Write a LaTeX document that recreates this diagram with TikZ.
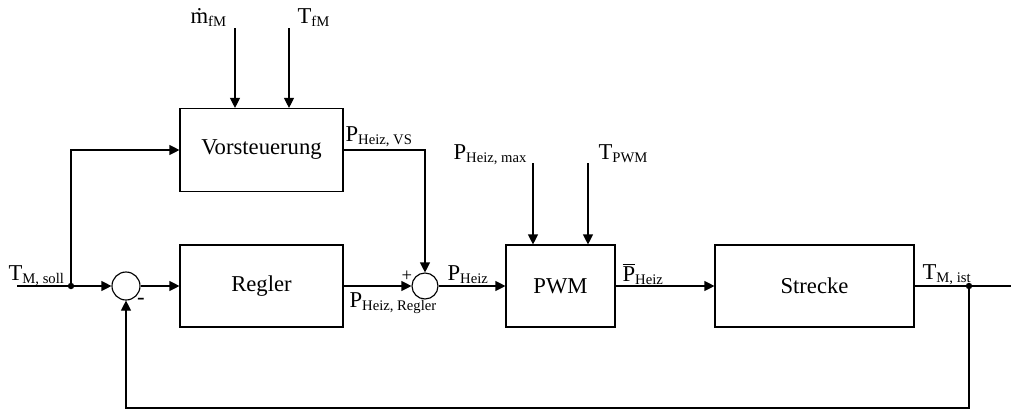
\documentclass[tikz,border=0pt]{standalone}
\usepackage{fontspec}
\setmainfont{Liberation Serif}
\usetikzlibrary{arrows.meta}
\newcommand\sbs[1]{\raisebox{-2.5pt}{\fontsize{11}{12}\selectfont #1}}
\begin{document}
\begin{tikzpicture}[x=0.75pt,y=-0.75pt, line width=0.85pt,
  font=\fontsize{17}{19}\selectfont,
  >={Triangle[length=7.5pt,width=7.5pt]},
  blk/.style={draw, minimum width=#1, minimum height=61.5pt, inner sep=0pt},
  sumc/.style={draw, circle, minimum size=#1, inner sep=0pt},
  dot/.style={circle, fill, inner sep=0pt, minimum size=4.8pt},
  lbl/.style={anchor=base west, inner sep=0pt}]
\useasboundingbox (0,0) rectangle (1011,412);
% blocks
\node[blk=122.25pt, minimum height=62.25pt] (vs) at (261.5,150) {Vorsteuerung};
\node[blk=122.25pt] (reg) at (261.5,286) {Regler};
\node[blk=81.75pt] (pwm) at (560.5,286) {PWM};
\node[blk=149.25pt] (str) at (814.5,286) {Strecke};
\node[sumc=21pt] (s1) at (126,286) {};
\node[sumc=19.5pt] (s2) at (425,286) {};
\node[dot] (d1) at (71,286) {};
\node[dot] (d2) at (969,286) {};
\coordinate (in) at (17,286);
\coordinate (out) at (1011,286);
\coordinate (fb1) at (969,408);
\coordinate (fb2) at (126,408);
\coordinate (m1) at (235,28);
\coordinate (m2) at (289,28);
\coordinate (p1) at (533,163);
\coordinate (p2) at (588,163);
% connectors
\draw[->] (in) -- (s1.west);
\draw[->] (d1.center) |- (vs.west);
\draw[->] (s1) -- (reg);
\draw[->] (reg) -- (s2);
\draw[->] (vs.east) -| (s2.north);
\draw[->] (s2) -- (pwm);
\draw[->] (pwm) -- (str);
\draw (str.east) -- (out);
\draw[->] (d2.center) -- (fb1) -- (fb2) -- (s1.south);
\draw[->] (m1) -- (m1 |- vs.north);
\draw[->] (m2) -- (m2 |- vs.north);
\draw[->] (p1) -- (p1 |- pwm.north);
\draw[->] (p2) -- (p2 |- pwm.north);
% labels
\node[lbl] (lsoll) at (8,280) {T\sbs{M, soll}};
\node[inner sep=0pt] (lminus) at (141,301) {-};
\node[inner sep=0pt, font=\fontsize{14}{15}\selectfont] (lplus) at (407,276) {+};
\node[lbl] (lreg) at (349,307) {P\sbs{Heiz, Regler}};
\node[lbl] (lvs) at (345,141) {P\sbs{Heiz, VS}};
\node[lbl] (lheiz) at (447,280) {P\sbs{Heiz}};
\node[lbl] (lbar) at (622,281) {$\overline{\mbox{P}}$\sbs{Heiz}};
\node[lbl] (list) at (922,279) {T\sbs{M, ist}};
\node[lbl] (lm) at (190,23) {\.m\sbs{fM}};
\node[lbl] (ltf) at (297,23) {T\sbs{fM}};
\node[lbl] (lmax) at (453,159) {P\sbs{Heiz, max}};
\node[lbl] (ltpwm) at (598,159) {T\sbs{PWM}};
\end{tikzpicture}
\end{document}
